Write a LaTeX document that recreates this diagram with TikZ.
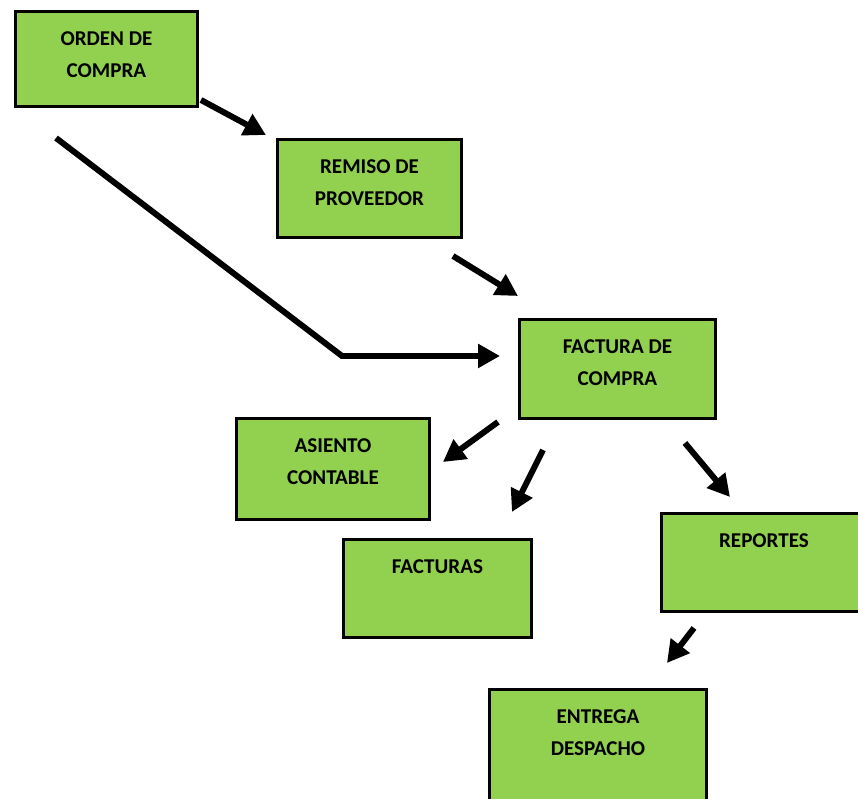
\documentclass[tikz,border=0pt]{standalone}
\usepackage{fontspec}
\setmainfont{Carlito}
\usepackage{tikz}
\usetikzlibrary{arrows.meta,calc}

\definecolor{verde}{HTML}{92D050}

\begin{document}
\begin{tikzpicture}[x=0.02cm,y=-0.02cm,
  -{Triangle[length=0.44cm,width=0.46cm]},line width=3.4pt,
  green node/.style 2 args={rectangle,fill=verde,draw=black,line width=1.7pt,
    anchor=north west,inner sep=0pt,align=center,
    font=\fontsize{12}{18}\selectfont\bfseries,text height=#1,text depth=#2}]

  \useasboundingbox (0,0) rectangle (858,798);
  \clip (0,0) rectangle (858,798);

  \node[green node={1.32cm}{0.58cm},minimum width=3.64cm] (orden) at (14,10) {ORDEN DE\\COMPRA};
  \node[green node={1.32cm}{0.64cm},minimum width=3.68cm] (remiso) at (276,138) {REMISO DE\\PROVEEDOR};
  \node[green node={1.32cm}{0.66cm},minimum width=3.92cm] (factura) at (518,318) {FACTURA DE\\COMPRA};
  \node[green node={1.32cm}{0.70cm},minimum width=3.86cm] (asiento) at (235,417) {ASIENTO\\CONTABLE};
  \node[green node={0.68cm}{1.28cm},minimum width=3.76cm] (facturas) at (342,538) {FACTURAS};
  \node[green node={0.68cm}{1.28cm},minimum width=4.10cm] (reportes) at (660,512) {REPORTES};
  \node[green node={1.32cm}{1.46cm},minimum width=4.34cm] (entrega) at (488,688) {ENTREGA\\DESPACHO};

  \coordinate (inicio) at (56,138);

  % flechas entre cajas
  \draw ($(orden.south east)+(2,-8)$) -- ($(remiso.north west)+(-10,-3)$);
  \draw (inicio) -- ($(factura.west)+(-176,-13)$) -- ($(factura.west)+(-18,-13)$);
  \draw ($(remiso.south east)+(-10,17)$) -- ($(factura.north west)+(0,-22)$);
  \draw ($(factura.south west)+(-20,2)$) -- ($(asiento.north east)+(12,45)$);
  \draw ($(factura.south west)+(25,30)$) -- ($(facturas.north east)+(-21,-26)$);
  \draw ($(factura.south east)+(-32,23)$) -- ($(reportes.north west)+(70,-15)$);
  \draw ($(reportes.south west)+(34,15)$) -- ($(entrega.north east)+(-41,-25)$);

\end{tikzpicture}
\end{document}
